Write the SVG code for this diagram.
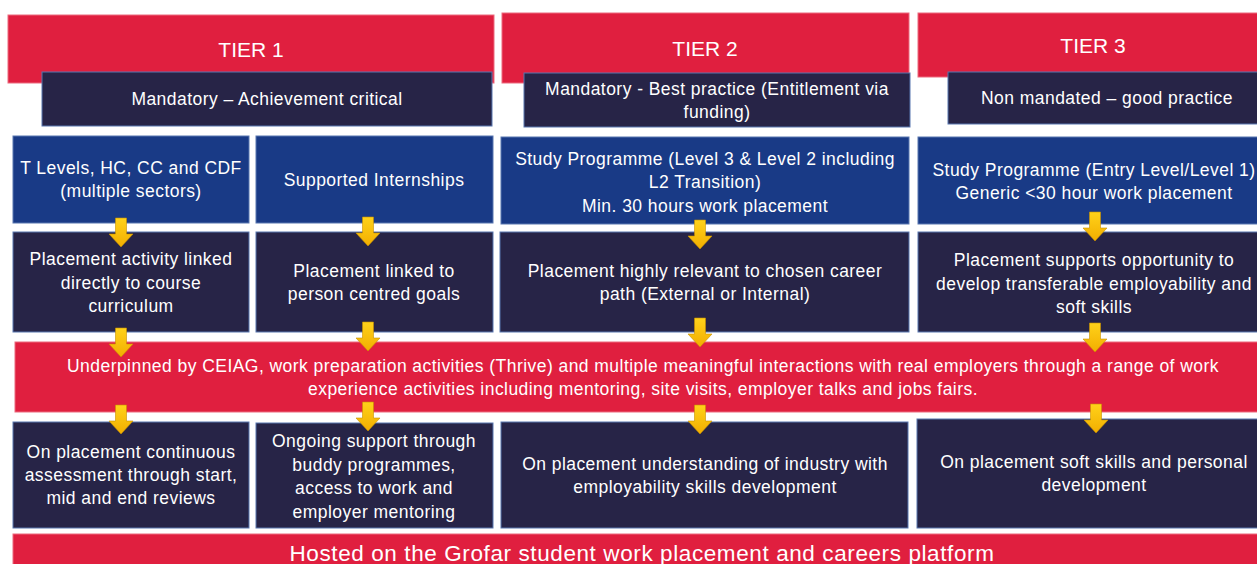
<svg xmlns="http://www.w3.org/2000/svg" width="1257" height="564" viewBox="0 0 1257 564">
<defs>
<style>
.red{fill:#E01F3F;stroke:#EC6A7E;stroke-width:1}
.dark{fill:#272447;stroke:#5876B0;stroke-width:1}
.blue{fill:#193A86;stroke:#5876B0;stroke-width:1}
text{font-family:"Liberation Sans",Arial,sans-serif;fill:#FFFFFF;text-anchor:middle}
.t{font-size:17.5px;letter-spacing:0.45px}
.tier{font-size:21px}
.big{font-size:22.5px;letter-spacing:0.6px}
.arrow{fill:url(#ag);stroke:#C89000;stroke-width:0.6}
</style>
<linearGradient id="ag" x1="0" y1="0" x2="0" y2="1">
<stop offset="0" stop-color="#FFD21A"/>
<stop offset="1" stop-color="#F2AE00"/>
</linearGradient>
<path id="arr" d="M-5.5,0 H5.5 V16 H12 L0,29 L-12,16 H-5.5 Z"/>
</defs>
<rect width="1257" height="564" fill="#FFFFFF"/>

<g id="tier1">
<rect class="red" x="8" y="15" width="486" height="68"/>
<text class="tier" x="251" y="57">TIER 1</text>
</g>
<g id="tier1-sub">
<rect class="dark" x="42" y="72" width="450" height="54"/>
<text class="t" x="267" y="105">Mandatory – Achievement critical</text>
</g>
<g id="tier2">
<rect class="red" x="502" y="13" width="407" height="70"/>
<text class="tier" x="705" y="56">TIER 2</text>
</g>
<g id="tier2-sub">
<rect class="dark" x="524" y="73" width="386" height="54"/>
<text class="t" x="717" y="95">Mandatory - Best practice (Entitlement via</text>
<text class="t" x="717" y="118">funding)</text>
</g>
<g id="tier3">
<rect class="red" x="918" y="13" width="340" height="64"/>
<text class="tier" x="1093" y="53">TIER 3</text>
</g>
<g id="tier3-sub">
<rect class="dark" x="948" y="72" width="310" height="52"/>
<text class="t" x="1107" y="104">Non mandated – good practice</text>
</g>

<g id="a1">
<rect class="blue" x="13" y="136" width="236" height="87"/>
<text class="t" x="131" y="174">T Levels, HC, CC and CDF</text>
<text class="t" x="131" y="197">(multiple sectors)</text>
</g>
<g id="b1">
<rect class="blue" x="256" y="136" width="237" height="87"/>
<text class="t" x="374" y="186">Supported Internships</text>
</g>
<g id="c1">
<rect class="blue" x="501" y="137" width="408" height="87"/>
<text class="t" x="705" y="165">Study Programme (Level 3 &amp; Level 2 including</text>
<text class="t" x="705" y="188">L2 Transition)</text>
<text class="t" x="705" y="212">Min. 30 hours work placement</text>
</g>
<g id="d1">
<rect class="blue" x="918" y="137" width="340" height="87"/>
<text class="t" x="1094" y="176">Study Programme (Entry Level/Level 1)</text>
<text class="t" x="1094" y="199">Generic &lt;30 hour work placement</text>
</g>

<g id="a2">
<rect class="dark" x="13" y="232" width="236" height="100"/>
<text class="t" x="131" y="265">Placement activity linked</text>
<text class="t" x="131" y="289">directly to course</text>
<text class="t" x="131" y="312">curriculum</text>
</g>
<g id="b2">
<rect class="dark" x="256" y="232" width="237" height="100"/>
<text class="t" x="374" y="277">Placement linked to</text>
<text class="t" x="374" y="300">person centred goals</text>
</g>
<g id="c2">
<rect class="dark" x="500" y="232" width="409" height="100"/>
<text class="t" x="705" y="277">Placement highly relevant to chosen career</text>
<text class="t" x="705" y="300">path (External or Internal)</text>
</g>
<g id="d2">
<rect class="dark" x="918" y="232" width="340" height="100"/>
<text class="t" x="1094" y="266">Placement supports opportunity to</text>
<text class="t" x="1094" y="290">develop transferable employability and</text>
<text class="t" x="1094" y="313">soft skills</text>
</g>

<g id="underpinned">
<rect class="red" x="15" y="342" width="1243" height="70"/>
<text class="t" x="643" y="372">Underpinned by CEIAG, work preparation activities (Thrive) and multiple meaningful interactions with real employers through a range of work</text>
<text class="t" x="643" y="395">experience activities including mentoring, site visits, employer talks and jobs fairs.</text>
</g>

<g id="a3">
<rect class="dark" x="13" y="422" width="236" height="106"/>
<text class="t" x="131" y="458">On placement continuous</text>
<text class="t" x="131" y="481">assessment through start,</text>
<text class="t" x="131" y="504">mid and end reviews</text>
</g>
<g id="b3">
<rect class="dark" x="256" y="423" width="237" height="105"/>
<text class="t" x="374" y="447">Ongoing support through</text>
<text class="t" x="374" y="471">buddy programmes,</text>
<text class="t" x="374" y="494">access to work and</text>
<text class="t" x="374" y="518">employer mentoring</text>
</g>
<g id="c3">
<rect class="dark" x="501" y="422" width="407" height="106"/>
<text class="t" x="705" y="470">On placement understanding of industry with</text>
<text class="t" x="705" y="493">employability skills development</text>
</g>
<g id="d3">
<rect class="dark" x="917" y="419" width="341" height="109"/>
<text class="t" x="1094" y="468">On placement soft skills and personal</text>
<text class="t" x="1094" y="491">development</text>
</g>

<g id="hosted">
<rect class="red" x="13" y="534" width="1245" height="32"/>
<text class="big" x="642" y="561">Hosted on the Grofar student work placement and careers platform</text>
</g>

<g id="connectors">
<use href="#arr" class="arrow" x="121" y="218"/>
<use href="#arr" class="arrow" x="368" y="217"/>
<use href="#arr" class="arrow" x="700" y="220"/>
<use href="#arr" class="arrow" x="1095" y="212"/>
<use href="#arr" class="arrow" x="121" y="328"/>
<use href="#arr" class="arrow" x="368" y="322"/>
<use href="#arr" class="arrow" x="700" y="318"/>
<use href="#arr" class="arrow" x="1095" y="323"/>
<use href="#arr" class="arrow" x="121" y="405"/>
<use href="#arr" class="arrow" x="368" y="402"/>
<use href="#arr" class="arrow" x="700" y="405"/>
<use href="#arr" class="arrow" x="1096" y="404"/>
</g>
</svg>
